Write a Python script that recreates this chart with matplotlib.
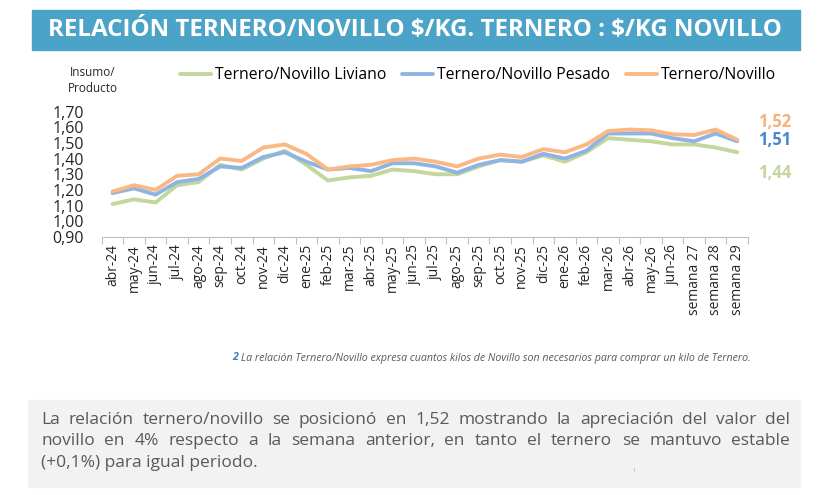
import numpy as np
import matplotlib.pyplot as plt
from matplotlib.patches import Rectangle

meses = ["abr-24", "may-24", "jun-24", "jul-24", "ago-24", "sep-24", "oct-24", "nov-24",
         "dic-24", "ene-25", "feb-25", "mar-25", "abr-25", "may-25", "jun-25", "jul-25",
         "ago-25", "sep-25", "oct-25", "nov-25", "dic-25", "ene-26", "feb-26", "mar-26",
         "abr-26", "may-26", "jun-26", "semana 27", "semana 28", "semana 29"]
liviano = [1.11, 1.14, 1.12, 1.23, 1.25, 1.36, 1.33, 1.40, 1.45, 1.36, 1.26, 1.28, 1.29, 1.33, 1.32,
           1.30, 1.30, 1.35, 1.39, 1.38, 1.42, 1.38, 1.44, 1.53, 1.52, 1.51, 1.49, 1.49, 1.47, 1.44]
pesado = [1.18, 1.21, 1.17, 1.25, 1.27, 1.35, 1.34, 1.41, 1.44, 1.38, 1.33, 1.34, 1.32, 1.37, 1.37,
          1.35, 1.31, 1.36, 1.39, 1.38, 1.43, 1.40, 1.45, 1.56, 1.56, 1.56, 1.53, 1.51, 1.56, 1.51]
total = [1.19, 1.23, 1.20, 1.29, 1.30, 1.40, 1.385, 1.47, 1.49, 1.43, 1.33, 1.35, 1.36, 1.39, 1.40,
         1.38, 1.35, 1.40, 1.425, 1.41, 1.46, 1.44, 1.49, 1.575, 1.585, 1.58, 1.555, 1.55, 1.585, 1.52]
yticks = [0.9, 1.0, 1.1, 1.2, 1.3, 1.4, 1.5, 1.6, 1.7]

c_liv = "#C3D69B"
c_pes = "#8EB4E3"
c_tot = "#FAB887"
fuente = "Open Sans"

W, H = 838, 495
fig = plt.figure(figsize=(W / 100, H / 100), dpi=100)

# banner del titulo
fig.patches.append(Rectangle((32 / W, 1 - 50 / H), 768 / W, 40 / H, transform=fig.transFigure,
                             color="#4BA3C7", zorder=0))
fig.text(415 / W, 1 - 30 / H, r"RELACIÓN TERNERO/NOVILLO \$/KG. TERNERO : \$/KG NOVILLO",
         ha="center", va="center", color="white", fontsize=17.4, fontweight="bold", family=fuente)

ax = fig.add_axes([101.7 / W, 1 - 237 / H, (748 - 101.7) / W, (237 - 111.5) / H])
x = np.arange(len(meses))
ax.plot(x, liviano, color=c_liv, lw=2.8, solid_joinstyle="round", solid_capstyle="round",
        label="Ternero/Novillo Liviano")
ax.plot(x, pesado, color=c_pes, lw=2.8, solid_joinstyle="round", solid_capstyle="round",
        label="Ternero/Novillo Pesado")
ax.plot(x, total, color=c_tot, lw=2.8, solid_joinstyle="round", solid_capstyle="round",
        label="Ternero/Novillo")
ax.set_xlim(-0.5, len(meses) - 0.5)
ax.set_ylim(0.9, 1.7)

ax.set_yticks(yticks)
ax.set_yticklabels([f"{v:.2f}".replace(".", ",") for v in yticks], fontsize=11.5,
                   family=fuente, color="#262626")
ax.tick_params(axis="y", length=0, pad=13)

ax.set_xticks(np.arange(-0.5, len(meses)), labels=[])
ax.set_xticks(x, labels=meses, minor=True)
ax.tick_params(axis="x", which="major", length=5, color="#BFBFBF", direction="out")
ax.tick_params(axis="x", which="minor", length=0, pad=5, labelrotation=90,
               labelsize=10, labelcolor="#262626")
for t in ax.get_xticklabels(minor=True):
    t.set_family(fuente)
for s in ["top", "right", "left"]:
    ax.spines[s].set_visible(False)
ax.spines["bottom"].set_color("#BFBFBF")

# etiquetas finales
ax.text(len(meses) - 0.05, total[-1] + 0.11, f"{total[-1]:.2f}".replace(".", ","), color="#F9B07A",
        fontsize=12, fontweight="bold", family=fuente, va="center", clip_on=False)
ax.text(len(meses) - 0.05, pesado[-1] + 0.01, f"{pesado[-1]:.2f}".replace(".", ","), color="#4A86D0",
        fontsize=12, fontweight="bold", family=fuente, va="center", clip_on=False)
ax.text(len(meses) - 0.05, liviano[-1] - 0.13, f"{liviano[-1]:.2f}".replace(".", ","), color=c_liv,
        fontsize=12, fontweight="bold", family=fuente, va="center", clip_on=False)

fig.legend(loc="center", bbox_to_anchor=(478 / W, 1 - 75 / H), ncol=3, frameon=False,
           prop={"family": fuente, "size": 11.3}, handlelength=2.0, columnspacing=1.0,
           handletextpad=0.25)
fig.text(93 / W, 1 - 81 / H, "Insumo/\nProducto", ha="center", va="center", fontsize=8.5,
         family=fuente, color="#262626", linespacing=1.3)

# nota al pie
fig.text(232 / W, 1 - 358 / H, "2", color="#3A7FC1", fontsize=7.7, fontweight="bold",
         style="italic", family=fuente, va="center")
fig.text(241 / W, 1 - 358 / H,
         "La relación Ternero/Novillo expresa cuantos kilos de Novillo son necesarios para comprar un kilo de Ternero.",
         color="#595959", fontsize=7.7, style="italic", family=fuente, va="center")

# recuadro de texto
fig.patches.append(Rectangle((28 / W, 1 - 487 / H), 772 / W, 87 / H, transform=fig.transFigure,
                             color="#F2F2F2", zorder=0))
lineas = ["La relación ternero/novillo se posicionó en 1,52 mostrando la apreciación del valor del",
          "novillo en 4% respecto a la semana anterior, en tanto el ternero se mantuvo estable",
          "(+0,1%) para igual periodo."]
x0, x1 = 41, 790
ys = [420, 441, 463]
fig.canvas.draw()
r = fig.canvas.get_renderer()
for i, linea in enumerate(lineas):
    if i == len(lineas) - 1:
        fig.text(x0 / W, 1 - ys[i] / H, linea, fontsize=12.5, family=fuente, color="#595959",
                 va="center")
        continue
    palabras = linea.split(" ")
    objs = [fig.text(0, 1 - ys[i] / H, p, fontsize=12.5, family=fuente, color="#595959",
                     va="center") for p in palabras]
    anchos = [o.get_window_extent(r).width for o in objs]
    hueco = (x1 - x0 - sum(anchos)) / (len(palabras) - 1)
    pos = x0
    for o, a in zip(objs, anchos):
        o.set_x(pos / W)
        pos += a + hueco

fig.text(632 / W, 1 - 470 / H, "1", fontsize=4, color="#A6A6A6", family=fuente, va="center")

fig.savefig("out.png", dpi=100)
